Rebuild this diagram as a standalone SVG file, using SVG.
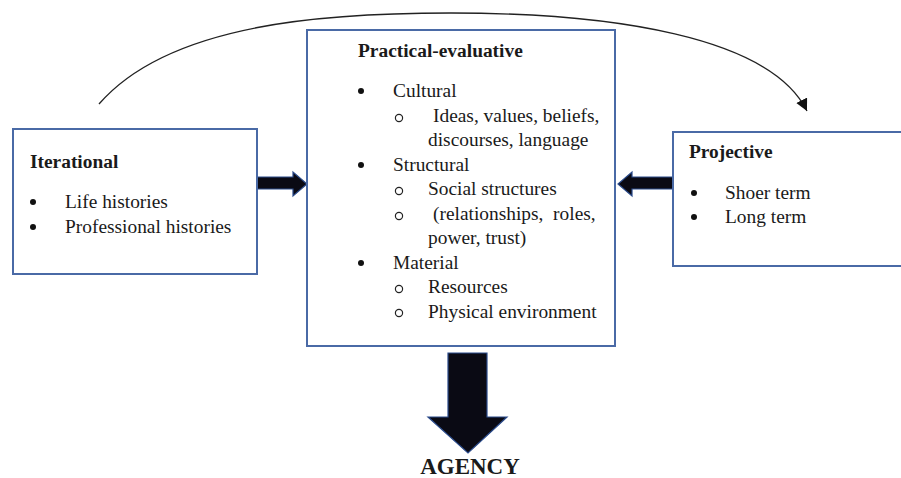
<svg xmlns="http://www.w3.org/2000/svg" width="901" height="478" viewBox="0 0 901 478">
<defs>
<style>
.box{fill:#ffffff;stroke:#4a6aa6;stroke-width:2}
.t{font-family:"Liberation Serif","Times New Roman",serif;font-size:19.4px;fill:#1a1a1a}
.b{font-weight:bold}
.dot{fill:#111}
.ring{fill:none;stroke:#222;stroke-width:1.2}
.fat{fill:#0a0a14;stroke:#2a4a8a;stroke-width:1.2}
</style>
<marker id="ah" markerWidth="14" markerHeight="14" refX="12" refY="6" orient="auto" markerUnits="userSpaceOnUse">
<path d="M0,0 L12,6 L0,12 Z" fill="#111"/>
</marker>
</defs>
<rect width="901" height="478" fill="#ffffff"/>
<g id="connectors">
<path d="M 99 104 C 170 22, 330 13, 451 13 C 610 13, 770 36, 807 111" fill="none" stroke="#222" stroke-width="1.3" marker-end="url(#ah)"/>
<polygon class="fat" points="257,177 293,177 293,172 307,184 293,196 293,189 257,189"/>
<polygon class="fat" points="673,177 632,177 632,172 618,184 632,196 632,189 673,189"/>
<polygon class="fat" points="448,353 487,353 487,417 507,417 468,453 428,417 448,417"/>
</g>
<g id="iterational">
<rect class="box" x="13" y="129" width="244" height="145"/>
<text class="t b" x="30" y="168">Iterational</text>
<circle class="dot" cx="33" cy="202" r="3"/>
<text class="t" x="65" y="208">Life histories</text>
<circle class="dot" cx="33" cy="227" r="3"/>
<text class="t" x="65" y="233">Professional histories</text>
</g>
<g id="practical">
<rect class="box" x="307" y="30" width="308" height="316"/>
<text class="t b" x="358" y="57">Practical-evaluative</text>
<circle class="dot" cx="361" cy="91" r="3"/>
<text class="t" x="393" y="97">Cultural</text>
<circle class="ring" cx="399" cy="118" r="3.6"/>
<text class="t" x="433" y="122">Ideas, values, beliefs,</text>
<text class="t" x="428" y="146">discourses, language</text>
<circle class="dot" cx="361" cy="165" r="3"/>
<text class="t" x="393" y="171">Structural</text>
<circle class="ring" cx="399" cy="191" r="3.6"/>
<text class="t" x="428" y="195">Social structures</text>
<circle class="ring" cx="399" cy="216" r="3.6"/>
<text class="t" x="433" y="220" xml:space="preserve">(relationships,  roles,</text>
<text class="t" x="428" y="244">power, trust)</text>
<circle class="dot" cx="361" cy="263" r="3"/>
<text class="t" x="393" y="269">Material</text>
<circle class="ring" cx="399" cy="289" r="3.6"/>
<text class="t" x="428" y="293">Resources</text>
<circle class="ring" cx="399" cy="313" r="3.6"/>
<text class="t" x="428" y="318">Physical environment</text>
</g>
<g id="projective">
<rect class="box" x="673" y="132" width="240" height="134"/>
<text class="t b" x="689" y="158">Projective</text>
<circle class="dot" cx="694" cy="193" r="3"/>
<text class="t" x="725" y="199">Shoer term</text>
<circle class="dot" cx="694" cy="217" r="3"/>
<text class="t" x="725" y="223">Long term</text>
</g>
<g id="agency">
<text class="t b" x="470" y="474" text-anchor="middle" style="font-size:23px">AGENCY</text>
</g>
</svg>
